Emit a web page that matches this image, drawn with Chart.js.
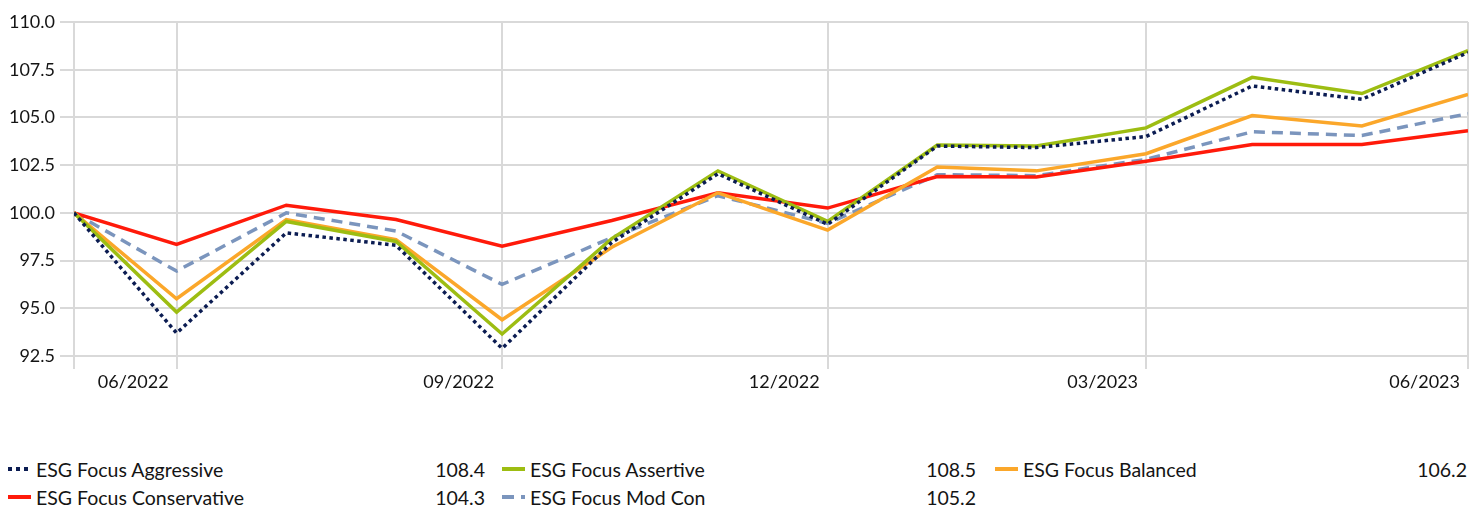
<!DOCTYPE html>
<html>
<head>
<meta charset="utf-8">
<script src="https://cdn.jsdelivr.net/npm/chart.js@4.4.0/dist/chart.umd.min.js"></script>
<style>
  html, body { margin: 0; padding: 0; background: #fff; }
  body { width: 1470px; height: 508px; position: relative; overflow: hidden; font-family: Lato, "Liberation Sans", sans-serif; color: #141414; }
  #wrap { position: absolute; left: 0; top: 0; width: 1470px; height: 392px; }
  .leg { position: absolute; height: 28px; display: flex; align-items: center; font-size: 19.5px; white-space: nowrap; }
  .leg svg { margin-right: 5px; flex: none; }
  .leg .val { position: absolute; right: 0; }
</style>
</head>
<body>
<div id="wrap"><canvas id="c" width="1470" height="392"></canvas></div>
<div id="legend"></div>
<script>
// ---- data ----
const dates = ['2022-06-01','2022-06-30','2022-07-31','2022-08-31','2022-09-30','2022-10-31','2022-11-30',
               '2022-12-31','2023-01-31','2023-02-28','2023-03-31','2023-04-30','2023-05-31','2023-06-30'];
const tickDates  = ['2022-06-30','2022-09-30','2022-12-31','2023-03-31','2023-06-30'];
const tickLabels = ['06/2022','09/2022','12/2022','03/2023','06/2023'];
const yTicks = [92.5, 95.0, 97.5, 100.0, 102.5, 105.0, 107.5, 110.0];

const seriesNames = ['ESG Focus Aggressive','ESG Focus Assertive','ESG Focus Balanced','ESG Focus Conservative','ESG Focus Mod Con'];
const aggressive   = [100, 93.7, 98.95, 98.3, 92.9, 98.45, 102.05, 99.4, 103.5, 103.42, 104.0, 106.65, 105.95, 108.4];
const assertive    = [100, 94.8, 99.55, 98.5, 93.65, 98.65, 102.2, 99.55, 103.55, 103.5, 104.45, 107.1, 106.25, 108.5];
const balanced     = [100, 95.5, 99.65, 98.6, 94.4, 98.2, 101.05, 99.1, 102.4, 102.2, 103.1, 105.1, 104.55, 106.2];
const conservative = [100, 98.35, 100.4, 99.65, 98.25, 99.6, 101.05, 100.25, 101.9, 101.88, 102.7, 103.58, 103.58, 104.3];
const modCon       = [100, 96.95, 100.0, 99.05, 96.25, 98.7, 100.9, 99.45, 102.0, 101.95, 102.8, 104.25, 104.05, 105.2];
const legendValues = ['108.4','108.5','106.2','104.3','105.2'];

// ---- styling ----
const colors = ['#0b1c52', '#9dbd12', '#fba72a', '#ff1a0a', '#7b95bd'];
const dashes = [[3.5, 3.5], [], [], [], [11, 7]];

const DAY = 86400000;
const t0 = Date.parse(dates[0]);
const dayOf = d => (Date.parse(d) - t0) / DAY;
const xs = dates.map(dayOf);
const tickXs = tickDates.map(dayOf);
const allSeries = [aggressive, assertive, balanced, conservative, modCon];

const datasets = allSeries.map((vals, i) => ({
  label: seriesNames[i],
  data: vals.map((v, j) => ({ x: xs[j], y: v })),
  borderColor: colors[i],
  backgroundColor: colors[i],
  borderWidth: 3.5,
  borderDash: dashes[i],
  borderCapStyle: 'butt',
  borderJoinStyle: 'miter',
  pointRadius: 0,
  tension: 0,
  fill: false,
  order: i
}));

const tickFont = { family: 'Lato, "Liberation Sans", sans-serif', size: 18 };

new Chart(document.getElementById('c'), {
  type: 'line',
  data: { datasets },
  options: {
    responsive: false,
    devicePixelRatio: 1,
    animation: false,
    layout: { padding: { top: 22, right: 2, left: 0, bottom: 0 } },
    plugins: { legend: { display: false }, tooltip: { enabled: false } },
    scales: {
      x: {
        type: 'linear',
        min: xs[0],
        max: xs[xs.length - 1],
        afterBuildTicks: s => { s.ticks = [{ value: xs[0] }].concat(tickXs.map(v => ({ value: v }))); },
        afterFit: s => { s.height = 36; },
        ticks: {
          autoSkip: false,
          maxRotation: 0,
          align: 'end',
          labelOffset: -8,
          padding: 2,
          color: '#141414',
          font: tickFont,
          callback: v => { const k = tickXs.indexOf(v); return k >= 0 ? tickLabels[k] : ''; }
        },
        grid: { color: '#d9d9d9', lineWidth: 2, drawTicks: true, tickLength: 13 },
        border: { display: false }
      },
      y: {
        min: yTicks[0],
        max: yTicks[yTicks.length - 1],
        afterBuildTicks: s => { s.ticks = yTicks.map(v => ({ value: v })); },
        afterFit: s => { s.width = 74; },
        ticks: {
          padding: 5,
          color: '#141414',
          font: tickFont,
          callback: v => v.toFixed(1)
        },
        grid: { color: '#d9d9d9', lineWidth: 2, drawTicks: true, tickLength: 14 },
        border: { display: false }
      }
    }
  }
});

// ---- legend (HTML) ----
const legendPos = [
  { left: 8,   top: 455, width: 477 },
  { left: 502, top: 455, width: 474 },
  { left: 995, top: 455, width: 472 },
  { left: 8,   top: 483, width: 477 },
  { left: 502, top: 483, width: 474 }
];
const legendEl = document.getElementById('legend');
seriesNames.forEach((name, i) => {
  const p = legendPos[i];
  const d = document.createElement('div');
  d.className = 'leg';
  d.style.left = p.left + 'px';
  d.style.top = p.top + 'px';
  d.style.width = p.width + 'px';
  const dash = dashes[i].length ? (i === 0 ? '4 4' : '12 7') : 'none';
  d.innerHTML = '<svg width="23" height="6"><line x1="0" y1="3" x2="23" y2="3" stroke="' + colors[i] +
    '" stroke-width="4" stroke-dasharray="' + dash + '"/></svg><span>' + name + '</span><span class="val">' + legendValues[i] + '</span>';
  legendEl.appendChild(d);
});
</script>
</body>
</html>
